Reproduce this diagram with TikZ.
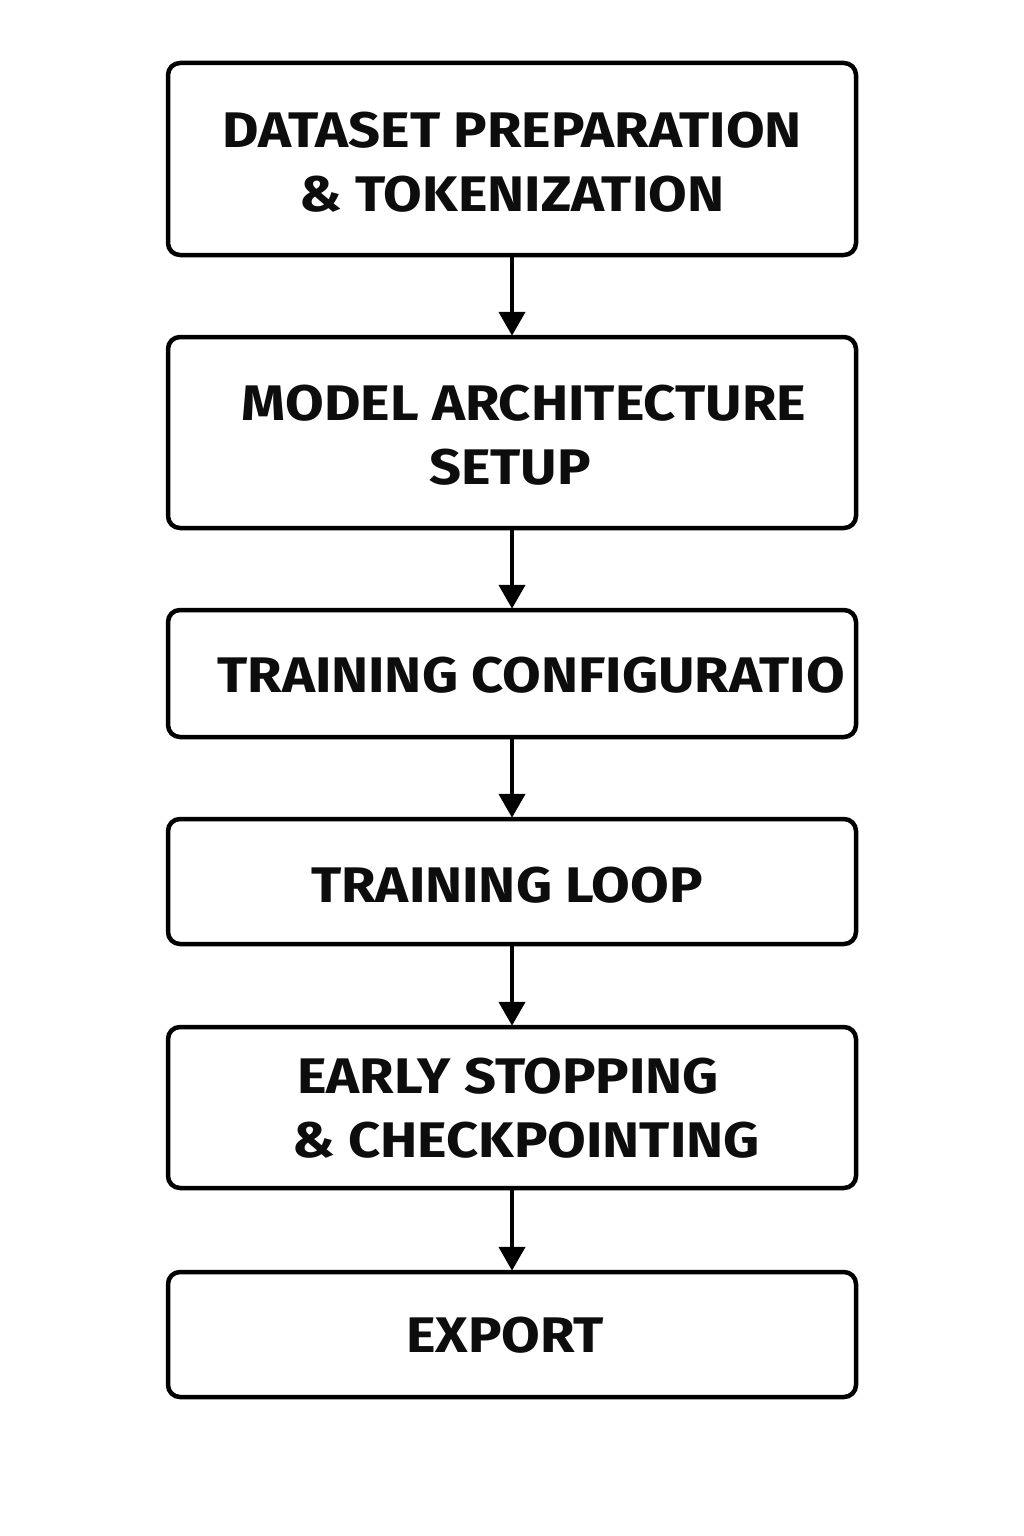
\documentclass[tikz,border=0pt]{standalone}
\usepackage{fontspec}
\setmainfont{Fira Sans}
\usetikzlibrary{arrows.meta}
\newcommand{\widen}[1]{\scalebox{1.12}[1]{#1}}
\begin{document}
\begin{tikzpicture}[x=1pt,y=-1pt,
  stepbox/.style={draw=black,line width=4.5pt,rounded corners=12pt,minimum width=688pt,inner sep=0pt,fill=white},
  lbl/.style={anchor=base,inner sep=0pt,font=\fontsize{50}{60}\selectfont\bfseries,text=black!95},
  conn/.style={line width=4.5pt,-{Triangle[width=26pt,length=24pt]},shorten >=-1pt}]
\useasboundingbox (0,0) rectangle (1024,1536);
\fill[white] (0,0) rectangle (1024,1536);
\node[stepbox,minimum height=192pt] (b1) at (512,159) {};
\node[stepbox,minimum height=191pt] (b2) at (512,432.5) {};
\node[stepbox,minimum height=127pt] (b3) at (512,673.5) {};
\node[stepbox,minimum height=125pt] (b4) at (512,881.5) {};
\node[stepbox,minimum height=161pt] (b5) at (512,1107.5) {};
\node[stepbox,minimum height=125pt] (b6) at (512,1334.5) {};
\node[lbl] (t1a) at (512,147) {\widen{DATASET PREPARATION}};
\node[lbl] (t1b) at (512,211) {\widen{\& TOKENIZATION}};
\node[lbl] (t2a) at (524,420) {\widen{MODEL ARCHITECTURE}};
\node[lbl] (t2b) at (510,484) {\widen{SETUP}};
\node[lbl] (t3) at (531,692) {\widen{TRAINING CONFIGURATIO}};
\node[lbl] (t4) at (507,902) {\widen{TRAINING LOOP}};
\node[lbl] (t5a) at (508,1093) {\widen{EARLY STOPPING}};
\node[lbl] (t5b) at (526,1157) {\widen{\& CHECKPOINTING}};
\node[lbl] (t6) at (505,1352) {\widen{EXPORT}};
\draw[conn] (b1.south) -- (b2.north);
\draw[conn] (b2.south) -- (b3.north);
\draw[conn] (b3.south) -- (b4.north);
\draw[conn] (b4.south) -- (b5.north);
\draw[conn] (b5.south) -- (b6.north);
\end{tikzpicture}
\end{document}
